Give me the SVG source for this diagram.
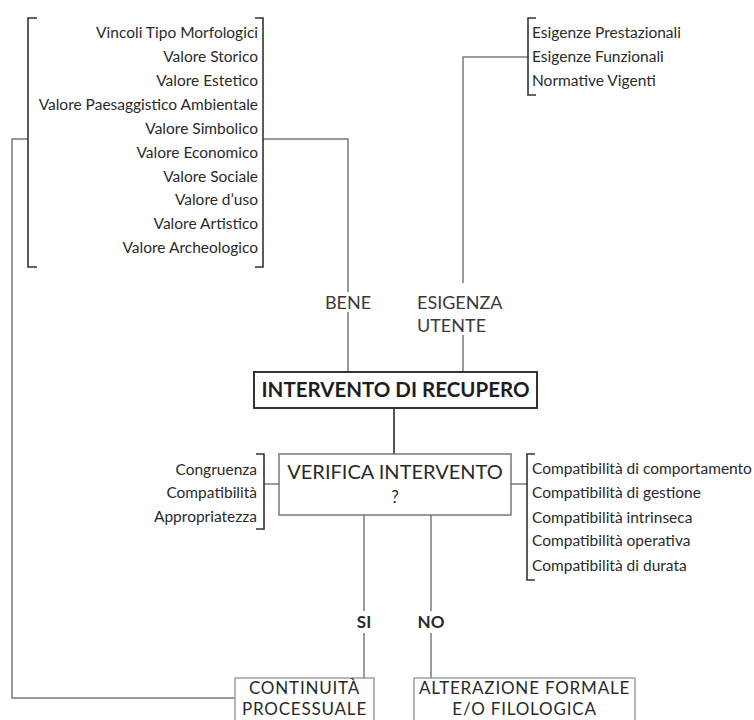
<svg xmlns="http://www.w3.org/2000/svg" width="754" height="720" viewBox="0 0 754 720">
<style>
  text { font-family: Lato, "Open Sans", "Liberation Sans", sans-serif; fill: #2a2a2a; }
  .list { font-size: 15.5px; }
  .r { text-anchor: end; }
  .c { text-anchor: middle; }
  .lbl { font-size: 18px; fill: #3a3a3a; }
  .bold { font-weight: bold; }
  .box { font-size: 17px; letter-spacing: 0.8px; }
  .conn { fill: none; stroke: #7a7a7a; stroke-width: 1.5; }
  .brk { fill: none; stroke: #333; stroke-width: 1.6; }
  .bg { fill: #fff; }
</style>
<rect width="754" height="720" fill="#fff"/>
<g id="connectors">
  <polyline class="conn" points="263,139 348,139 348,372"/>
  <polyline class="conn" points="28,139 12,139 12,698 235,698"/>
  <polyline class="conn" points="528,57 463,57 463,372"/>
  <line class="conn" x1="394" y1="408" x2="394" y2="454" style="stroke:#555;stroke-width:2"/>
  <line class="conn" x1="264" y1="484" x2="279" y2="484"/>
  <line class="conn" x1="511" y1="484" x2="527" y2="484"/>
  <line class="conn" x1="364" y1="515" x2="364" y2="678"/>
  <line class="conn" x1="431" y1="515" x2="431" y2="678"/>
</g>
<g id="bene-values">
  <path class="brk" d="M37,18 H28 V267 H37"/>
  <path class="brk" d="M255,18 H263 V267 H255"/>
  <text class="list r" x="258" y="38">Vincoli Tipo Morfologici</text>
  <text class="list r" x="258" y="62">Valore Storico</text>
  <text class="list r" x="258" y="86">Valore Estetico</text>
  <text class="list r" x="258" y="110">Valore Paesaggistico Ambientale</text>
  <text class="list r" x="258" y="134">Valore Simbolico</text>
  <text class="list r" x="258" y="158">Valore Economico</text>
  <text class="list r" x="258" y="182">Valore Sociale</text>
  <text class="list r" x="258" y="205">Valore d’uso</text>
  <text class="list r" x="258" y="229">Valore Artistico</text>
  <text class="list r" x="258" y="253">Valore Archeologico</text>
</g>
<g id="esigenze">
  <path class="brk" d="M536,18 H528 V95 H536"/>
  <text class="list" x="532" y="38">Esigenze Prestazionali</text>
  <text class="list" x="532" y="62">Esigenze Funzionali</text>
  <text class="list" x="532" y="86">Normative Vigenti</text>
</g>
<g id="label-bene">
  <rect class="bg" x="324" y="292" width="48" height="20"/>
  <text class="lbl c" x="348" y="309">BENE</text>
</g>
<g id="label-esigenza">
  <rect class="bg" x="414" y="283" width="98" height="52"/>
  <text class="lbl" x="417" y="309">ESIGENZA</text>
  <text class="lbl" x="417" y="332">UTENTE</text>
</g>
<g id="intervento">
  <rect x="254" y="372" width="283" height="36" fill="#fff" stroke="#333" stroke-width="2"/>
  <text class="c bold" x="395.5" y="397" style="font-size:20.5px;fill:#1e1e1e">INTERVENTO DI RECUPERO</text>
</g>
<g id="verifica">
  <rect x="279" y="454" width="232" height="61" fill="#fff" stroke="#777" stroke-width="1.5"/>
  <text class="c" x="395" y="479" style="font-size:20px">VERIFICA INTERVENTO</text>
  <text class="c" x="395" y="503" style="font-size:17px">?</text>
</g>
<g id="criteri">
  <path class="brk" d="M256,454 H264 V529 H256"/>
  <text class="list r" x="257" y="475">Congruenza</text>
  <text class="list r" x="257" y="498">Compatibilità</text>
  <text class="list r" x="257" y="522">Appropriatezza</text>
</g>
<g id="compatibilita">
  <path class="brk" d="M535,454 H527 V580 H535"/>
  <text class="list" x="532" y="474">Compatibilità di comportamento</text>
  <text class="list" x="532" y="498">Compatibilità di gestione</text>
  <text class="list" x="532" y="523">Compatibilità intrinseca</text>
  <text class="list" x="532" y="546">Compatibilità operativa</text>
  <text class="list" x="532" y="571">Compatibilità di durata</text>
</g>
<g id="label-si">
  <rect class="bg" x="354" y="611" width="21" height="22"/>
  <text class="c bold" x="364" y="628" style="font-size:17px">SI</text>
</g>
<g id="label-no">
  <rect class="bg" x="416" y="611" width="30" height="22"/>
  <text class="c bold" x="431" y="628" style="font-size:17px">NO</text>
</g>
<g id="continuita">
  <rect x="235" y="678" width="139" height="50" fill="#fff" stroke="#888" stroke-width="1.2"/>
  <text class="c box" x="304.5" y="694">CONTINUITÀ</text>
  <text class="c box" x="304.5" y="715">PROCESSUALE</text>
</g>
<g id="alterazione">
  <rect x="414" y="678" width="221" height="50" fill="#fff" stroke="#888" stroke-width="1.2"/>
  <text class="c box" x="524.5" y="694">ALTERAZIONE FORMALE</text>
  <text class="c box" x="524.5" y="715">E/O FILOLOGICA</text>
</g>
</svg>
